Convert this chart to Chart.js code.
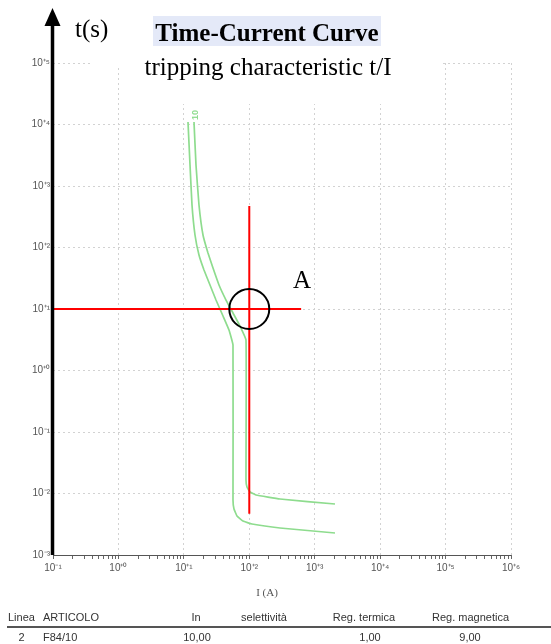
<!DOCTYPE html>
<html><head><meta charset="utf-8">
<script src="https://cdn.jsdelivr.net/npm/chart.js@4.4.1/dist/chart.umd.min.js"></script>
<style>
body{margin:0;background:#fff;}
#wrap{position:relative;width:551px;height:644px;overflow:hidden;background:#fff;}
canvas{position:absolute;left:0;top:0;}
.t{position:absolute;white-space:nowrap;}
.serif{font-family:"Liberation Serif","Times New Roman",serif;color:#000;}
.tab{position:absolute;white-space:nowrap;font-family:"Liberation Sans",Arial,sans-serif;font-size:11px;color:#333;line-height:14px;height:14px;}
.c{text-align:center;}
</style></head><body>
<div id="wrap">
<canvas id="c" width="551" height="644"></canvas>
<div class="t serif" style="left:153px;top:16px;width:228px;height:30px;background:#e4e9f8;font-weight:bold;font-size:25px;line-height:30px;text-align:center;"><span style="position:relative;top:2px">Time-Current Curve</span></div>
<div class="t serif" style="left:118px;top:52px;width:300px;font-size:25px;line-height:30px;text-align:center;">tripping characteristic t/I</div>
<div class="t serif" style="left:75px;top:14px;font-size:25px;line-height:30px;">t(s)</div>
<div class="t serif" style="left:293px;top:265px;font-size:25px;line-height:30px;">A</div>
<div class="t serif" style="left:237px;top:585px;width:60px;font-size:11px;line-height:14px;text-align:center;color:#555;">I (A)</div>
<div class="t" style="left:195px;top:115px;transform:translate(-50%,-50%) rotate(-90deg);font-family:'Liberation Sans',Arial,sans-serif;font-weight:bold;font-size:9px;color:#8edc8e;">10</div>

<div class="tab" style="left:8px;top:610px;">Linea</div>
<div class="tab" style="left:43px;top:610px;">ARTICOLO</div>
<div class="tab c" style="left:166px;top:610px;width:60px;">In</div>
<div class="tab c" style="left:224px;top:610px;width:80px;">selettività</div>
<div class="tab c" style="left:314px;top:610px;width:100px;">Reg. termica</div>
<div class="tab c" style="left:420px;top:610px;width:101px;">Reg. magnetica</div>
<div style="position:absolute;left:7px;top:626px;width:544px;height:1.5px;background:#555;"></div>
<div class="tab c" style="left:11px;top:630px;width:21px;">2</div>
<div class="tab" style="left:43px;top:630px;">F84/10</div>
<div class="tab c" style="left:167px;top:630px;width:60px;">10,00</div>
<div class="tab c" style="left:340px;top:630px;width:60px;">1,00</div>
<div class="tab c" style="left:440px;top:630px;width:60px;">9,00</div>
</div>
<script>
// ---- data ----
const xTickExps = [-1, 0, 1, 2, 3, 4, 5, 6];
const yTickExps = [-3, -2, -1, 0, 1, 2, 3, 4, 5];
const minCurveI = [11.57, 12.42, 13.32, 14.80, 17.03, 20.31, 25.09, 30.99, 39.66, 48.97, 56.36, 56.36, 58.38, 64.90, 80.14, 110.0, 294.7, 2042];
const minCurveT = [10980, 2196, 491, 159.7, 75.5, 43.1, 24.6, 14.0, 7.69, 4.56, 2.60, 0.00784, 0.00560, 0.00431, 0.00357, 0.00319, 0.00275, 0.00228];
const maxCurveI = [14.29, 15.33, 17.03, 19.61, 23.38, 27.89, 34.45, 44.07, 56.36, 72.11, 89.06, 89.06, 92.25, 102.5, 126.6, 294.7, 2042];
const maxCurveT = [10980, 2196, 491, 159.7, 81.4, 46.4, 24.6, 14.0, 8.61, 5.29, 3.13, 0.01658, 0.01276, 0.01058, 0.00945, 0.00814, 0.00675];
const crossH_I = [0.1, 620];
const crossH_T = [10, 10];
const crossV_I = [100, 100];
const crossV_T = [473, 0.0047];
const pointA_I = [100];
const pointA_T = [10];

const zip = (xs, ys) => xs.map((x, i) => ({x: x, y: ys[i]}));
const SUP = {'0':'⁰','1':'¹','2':'²','3':'³','4':'⁴','5':'⁵','6':'⁶','7':'⁷','8':'⁸','9':'⁹'};
const fmt = e => '10' + (e < 0 ? '⁻' : '⁺') + String(Math.abs(e)).split('').map(d => SUP[d]).join('');
const isPow = v => { const e = Math.log10(v); return Math.abs(e - Math.round(e)) < 1e-6; };
const lbl = v => isPow(v) ? fmt(Math.round(Math.log10(v))) : '';

const GREEN = '#8edc8e';
const GRID = '#d2d2d2';

const deco = {
  id: 'deco',
  beforeDatasetsDraw(chart) {
    const ctx = chart.ctx;
    ctx.save();
    ctx.fillStyle = '#fff';
    ctx.fillRect(90, 58, 350, 9);
    ctx.fillRect(150, 58, 290, 46);
    ctx.restore();
  },
  afterDraw(chart) {
    const ctx = chart.ctx, a = chart.chartArea;
    ctx.save();
    ctx.strokeStyle = '#555';
    ctx.lineWidth = 1;
    ctx.beginPath();
    ctx.moveTo(a.left, a.bottom + 0.5);
    ctx.lineTo(a.right, a.bottom + 0.5);
    ctx.stroke();
    const x = a.left - 0.5;
    ctx.fillStyle = '#000';
    ctx.fillRect(x - 1.75, 24, 3.5, a.bottom - 24);
    ctx.beginPath();
    ctx.moveTo(x, 8);
    ctx.lineTo(x - 8, 26);
    ctx.lineTo(x + 8, 26);
    ctx.closePath();
    ctx.fill();
    ctx.restore();
  }
};

new Chart(document.getElementById('c'), {
  type: 'line',
  data: {
    datasets: [
      {data: zip(pointA_I, pointA_T), showLine: false, pointRadius: 20, pointHoverRadius: 20,
       pointBorderColor: '#000', pointBorderWidth: 2, pointBackgroundColor: 'rgba(0,0,0,0)', order: 0},
      {data: zip(crossH_I, crossH_T), borderColor: '#ff0000', borderWidth: 2, pointRadius: 0, order: 1},
      {data: zip(crossV_I, crossV_T), borderColor: '#ff0000', borderWidth: 2, pointRadius: 0, order: 1},
      {data: zip(minCurveI, minCurveT), borderColor: GREEN, borderWidth: 1.7, pointRadius: 0, tension: 0.1, order: 2},
      {data: zip(maxCurveI, maxCurveT), borderColor: GREEN, borderWidth: 1.7, pointRadius: 0, tension: 0.1, order: 2}
    ]
  },
  options: {
    responsive: false,
    animation: false,
    devicePixelRatio: 1,
    layout: {padding: {left: 0, right: 40, top: 63, bottom: 0}},
    plugins: {legend: {display: false}, tooltip: {enabled: false}},
    scales: {
      x: {
        type: 'logarithmic',
        min: Math.pow(10, xTickExps[0]),
        max: Math.pow(10, xTickExps[xTickExps.length - 1]),
        afterBuildTicks: s => {
          const t = [];
          for (let i = 0; i < xTickExps.length - 1; i++)
            for (let m = 1; m <= 9; m++) t.push({value: m * Math.pow(10, xTickExps[i])});
          t.push({value: Math.pow(10, xTickExps[xTickExps.length - 1])});
          s.ticks = t;
        },
        afterFit: s => { s.height = 89; },
        ticks: {autoSkip: false, maxRotation: 0, minRotation: 0, padding: 3, color: '#555',
                font: {family: 'Liberation Sans', size: 10}, callback: v => lbl(v)},
        grid: {color: c => (c.tick && isPow(c.tick.value)) ? GRID : 'rgba(0,0,0,0)',
               tickColor: '#666', tickLength: 4, lineWidth: 1},
        border: {display: false, dash: [2, 3]}
      },
      y: {
        type: 'logarithmic',
        min: Math.pow(10, yTickExps[0]),
        max: Math.pow(10, yTickExps[yTickExps.length - 1]),
        afterBuildTicks: s => { s.ticks = yTickExps.map(e => ({value: Math.pow(10, e)})); },
        afterFit: s => { s.width = 53; },
        ticks: {padding: 3, color: '#555', font: {family: 'Liberation Sans', size: 10}, callback: v => lbl(v)},
        grid: {color: GRID, drawTicks: false, lineWidth: 1},
        border: {display: false, dash: [2, 3]}
      }
    }
  },
  plugins: [deco]
});
</script>
</body></html>
